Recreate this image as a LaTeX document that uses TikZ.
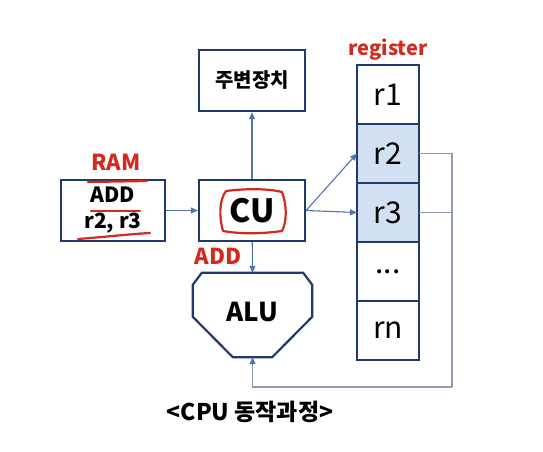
\documentclass[tikz,border=0pt]{standalone}
\usepackage{fontspec}
\setmainfont{Noto Sans CJK KR}
\usetikzlibrary{arrows.meta, positioning, calc}
\definecolor{boxblue}{HTML}{1F3B6E}
\definecolor{arrowblue}{HTML}{4F74AE}
\definecolor{fbgray}{HTML}{8E9BB2}
\definecolor{regfill}{HTML}{D3DFF2}
\definecolor{penred}{HTML}{D42A1E}

\begin{document}
\begin{tikzpicture}[
    x=1pt, y=-1pt,
    >={Triangle[length=7pt, width=6pt]},
    unit/.style={
        rectangle, draw=boxblue, line width=2.2pt, fill=white,
        minimum width=106pt, minimum height=61pt,
        inner sep=0pt, align=center, font=\fontsize{20}{24}\selectfont\bfseries
    },
    cell/.style={
        rectangle, draw=boxblue, line width=2.2pt, outer sep=0pt,
        minimum width=62pt, minimum height=59pt,
        inner sep=0pt, font=\fontsize{30}{32}\selectfont
    },
    link/.style={->, draw=arrowblue, line width=1.1pt},
    backlink/.style={draw=fbgray, line width=1.1pt},
    marker/.style={text=penred, font=\fontsize{22}{24}\selectfont\bfseries},
    pen/.style={draw=penred, line width=2.2pt, line cap=round, line join=round},
]
\useasboundingbox (0,0) rectangle (543,451);

% ── Units ──
\node[unit] (dev) at (252,80.5) {주변장치};
\node[unit] (cu) at (252,210.5) {\fontsize{32}{34}\selectfont CU};
\node[unit, minimum width=104pt, font=\fontsize{21}{26}\selectfont\bfseries] (ram) at (113,210.5) {ADD\\r2, r3};
\node[minimum width=119pt, minimum height=84pt, inner sep=0pt] (alu) at (252.5,315) {};

% ── ALU outline ──
\draw[draw=boxblue, line width=2.2pt, line join=round]
    ($(alu.north west)+(9,0)$) -- ($(alu.north east)+(-9,0)$)
    -- ($(alu.north east)+(0,12)$) -- ($(alu.north east)+(0,44)$)
    -- ($(alu.south east)+(-40,0)$) -- ($(alu.south west)+(40,0)$)
    -- ($(alu.north west)+(0,44)$) -- ($(alu.north west)+(0,12)$) -- cycle;
\node[font=\fontsize{26}{28}\selectfont\bfseries] (alutxt) at ($(alu.center)+(0,-3)$) {ALU};

% ── Register file ──
\node[cell] (r1) at (388,94.5) {r1};
\node[cell, fill=regfill, below=0pt of r1] (r2) {r2};
\node[cell, fill=regfill, below=0pt of r2] (r3) {r3};
\node[cell, below=0pt of r3] (rdots) {...};
\node[cell, below=0pt of rdots] (rn) {rn};
\node[marker, font=\fontsize{20}{22}\selectfont\bfseries, above=1pt of r1] (reglbl) {register};

% ── Edges ──
\draw[link] (ram) -- (cu);
\draw[link] (cu) -- (dev);
\draw[link] (cu) -- (alu.north);
\draw[link] (cu.east) -- (r2.west);
\draw[link] (cu.east) -- (r3.west);

\coordinate (fbr) at (452,387);
\draw[backlink] (r2.east) -| (fbr);
\draw[backlink] (r3.east) -- (r3.east -| fbr);
\draw[backlink] (fbr) -| ($(alu.south)+(0,8)$);
\draw[link] ($(alu.south)+(0,8)$) -- (alu.south);

% ── Hand marks ──
\node[marker] (ramlbl) at (116,162) {RAM};
\node[marker] (addlbl) at (218,256) {ADD};
\draw[pen] (88,182) -- (147,181);
\draw[pen] (91,211) -- (140,211);
\draw[pen] (78,239) .. controls (105,237) and (130,234) .. (150,233);
\draw[pen] (226,191) .. controls (250,188) and (270,189) .. (282,192)
    .. controls (287,205) and (287,222) .. (282,231)
    .. controls (260,234) and (240,234) .. (223,231)
    .. controls (219,218) and (219,200) .. (226,191);

% ── Caption ──
\node[font=\fontsize{23}{26}\selectfont\bfseries] (title) at (250,412) {<CPU 동작과정>};

\end{tikzpicture}
\end{document}
